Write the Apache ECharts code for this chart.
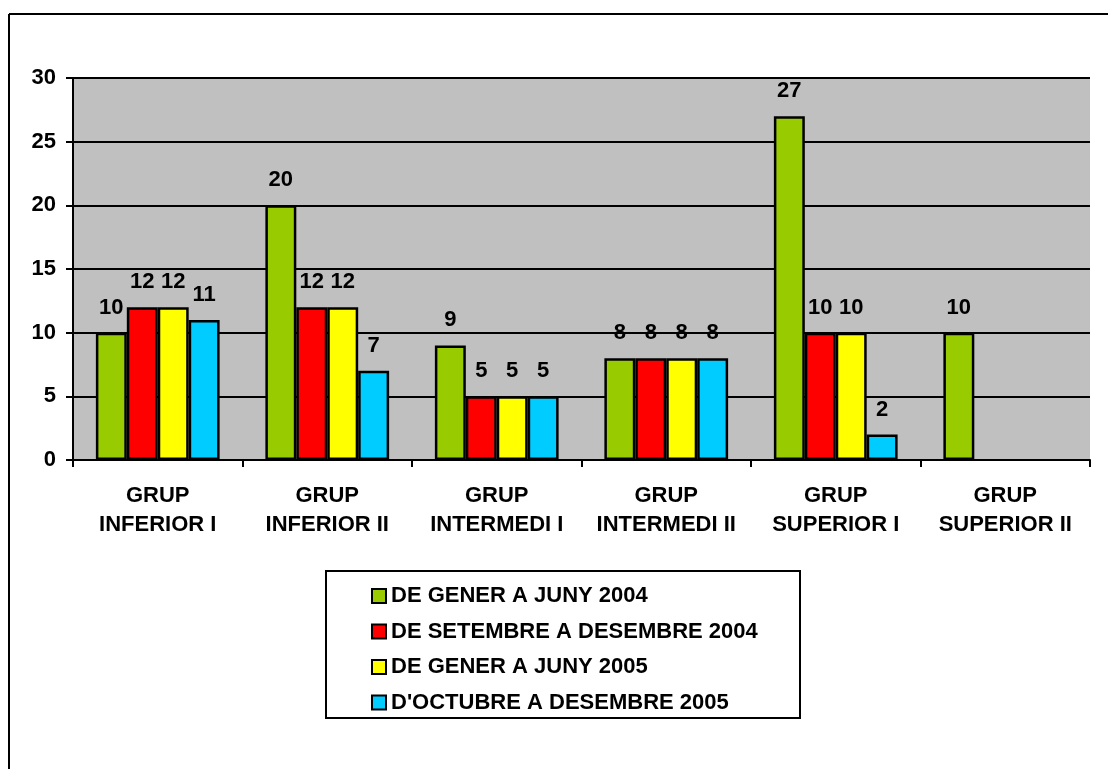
<!DOCTYPE html>
<html>
<head>
<meta charset="utf-8">
<script src="https://cdn.jsdelivr.net/npm/echarts@6/dist/echarts.min.js"></script>
<style>
html,body{margin:0;padding:0;background:#fff;}
#chart{width:1108px;height:769px;}
</style>
</head>
<body>
<div id="chart"></div>
<script>
const categories = ['GRUP\nINFERIOR I', 'GRUP\nINFERIOR II', 'GRUP\nINTERMEDI I', 'GRUP\nINTERMEDI II', 'GRUP\nSUPERIOR I', 'GRUP\nSUPERIOR II'];
const seriesNames = ['DE GENER A JUNY 2004', 'DE SETEMBRE A DESEMBRE 2004', 'DE GENER A JUNY 2005', "D'OCTUBRE A DESEMBRE 2005"];
const gener2004 = [10, 20, 9, 8, 27, 10];
const setembre2004 = [12, 12, 5, 8, 10, null];
const gener2005 = [12, 12, 5, 8, 10, null];
const octubre2005 = [11, 7, 5, 8, 2, null];
const colors = ['#99CC00', '#FF0000', '#FFFF00', '#00CCFF'];

const FONT = "'Liberation Sans', Arial, sans-serif";
const values = [gener2004, setembre2004, gener2005, octubre2005];

const chart = echarts.init(document.getElementById('chart'), null, {renderer: 'canvas'});
chart.setOption({
  animation: false,
  backgroundColor: '#fff',
  textStyle: {fontFamily: FONT},
  grid: {left: 73, right: 18, top: 78, bottom: 309, show: true, backgroundColor: '#C0C0C0', borderWidth: 0},
  legend: {
    orient: 'vertical',
    left: 366, top: 580,
    itemWidth: 14, itemHeight: 14, itemGap: 13.5,
    icon: 'rect',
    itemStyle: {borderColor: '#000', borderWidth: 2},
    textStyle: {fontFamily: FONT, fontWeight: 'bold', fontSize: 22, color: '#000', lineHeight: 22},
    data: seriesNames
  },
  graphic: [
    {type: 'line', shape: {x1: 9, y1: 14, x2: 1108, y2: 14}, style: {stroke: '#000', lineWidth: 2}},
    {type: 'line', shape: {x1: 9, y1: 14, x2: 9, y2: 769}, style: {stroke: '#000', lineWidth: 2}},
    {type: 'rect', shape: {x: 326, y: 571, width: 474, height: 147}, style: {fill: 'none', stroke: '#000', lineWidth: 2}}
  ],
  xAxis: {
    type: 'category',
    data: categories,
    axisLine: {lineStyle: {color: '#000', width: 2}},
    axisTick: {show: true, length: 7, lineStyle: {color: '#000', width: 2}},
    axisLabel: {color: '#000', fontWeight: 'bold', fontSize: 22, fontFamily: FONT, lineHeight: 29, margin: 21, interval: 0}
  },
  yAxis: {
    type: 'value', min: 0, max: 30, interval: 5,
    axisLine: {show: true, lineStyle: {color: '#000', width: 2}},
    axisTick: {show: true, length: 7, lineStyle: {color: '#000', width: 2}},
    axisLabel: {color: '#000', fontWeight: 'bold', fontSize: 22, fontFamily: FONT, margin: 17},
    splitLine: {show: true, lineStyle: {color: '#000', width: 2}}
  },
  series: seriesNames.map((name, i) => ({
    name: name,
    type: 'bar',
    data: values[i],
    barGap: '0%',
    barCategoryGap: '27%',
    itemStyle: {color: colors[i], borderColor: '#000', borderWidth: 2.5},
    label: {show: true, position: 'top', distance: 14, color: '#000', fontWeight: 'bold', fontSize: 22, fontFamily: FONT}
  }))
});
</script>
</body>
</html>
